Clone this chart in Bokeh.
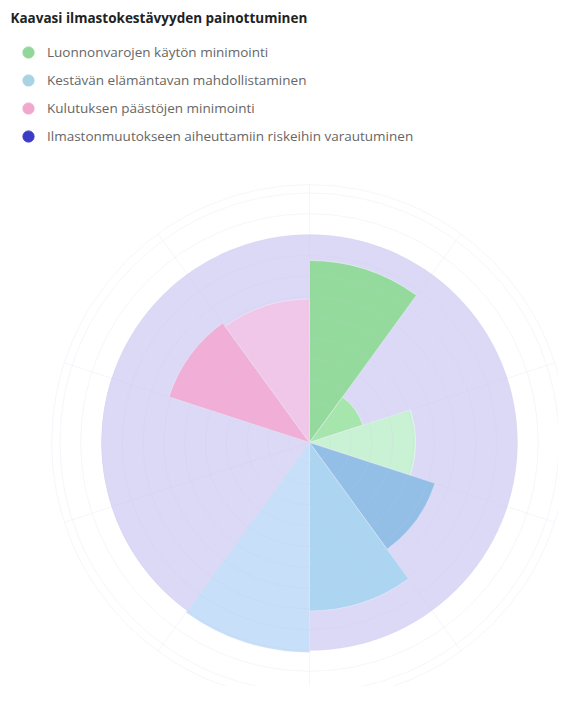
import numpy as np
from bokeh.plotting import figure
from bokeh.models import Label, Legend, LegendItem, ColumnDataSource
from bokeh.embed import file_html
from bokeh.resources import INLINE

# ---- data ----
title_text = "Kaavasi ilmastokestävyyden painottuminen"
series_names = [
    "Luonnonvarojen käytön minimointi",
    "Kestävän elämäntavan mahdollistaminen",
    "Kulutuksen päästöjen minimointi",
    "Ilmastonmuutokseen aiheuttamiin riskeihin varautuminen",
]
# sectors clockwise from 12 o'clock
sector_values = [8.75, 2.7, 5.1, 6.35, 8.1, 10.1, 10.0, 10.0, 7.1, 6.9]
sector_series = [0, 0, 0, 1, 1, 1, 3, 3, 2, 2]
background_value = 10.0
grid_values = [1, 2, 3, 4, 5, 6, 7, 8, 9, 10, 11, 12]
grid_outer = 12.4

# ---- styles ----
sector_colors = ["#94da9c", "#a6e6ac", "#c9f1d4", "#93bfe6", "#acd5f2", "#c7dff8",
                 "#dcd9f6", "#dcd9f6", "#f1aed7", "#f1c7e9"]
seam_alpha = [0.4, 0.4, 0.4, 0.3, 0.3, 0.3, 0.0, 0.0, 0.3, 0.3]
legend_colors = ["#92d79a", "#a9d3e3", "#f0a9cc", "#3b3bc6"]
disc_color = "#dcd9f6"

W, H = 558, 686
unit = 20.8          # px per value unit
cx, cy = 309, 442    # centre in figure px (from left, from top)

p = figure(width=W, height=H, output_backend="svg", toolbar_location=None,
           x_range=(-cx / unit, (W - cx) / unit),
           y_range=(-(H - cy) / unit, cy / unit),
           min_border=0, outline_line_color=None)
p.axis.visible = False
p.grid.visible = False
p.background_fill_color = "white"
p.border_fill_color = "white"

# legend proxies (no visible points)
items = []
for name, col in zip(series_names, legend_colors):
    r = p.scatter(x=[np.nan], y=[np.nan], marker="circle", size=11,
                  fill_color=col, line_color=col)
    items.append(LegendItem(label=name, renderers=[r]))

# background disc (fourth series, full circle)
p.circle(x=[0], y=[0], radius=[background_value], fill_color=disc_color,
         line_color=None)

n = len(sector_values)
step = 2 * np.pi / n
starts = [np.pi / 2 - step * (i + 1) for i in range(n)]
ends = [np.pi / 2 - step * i for i in range(n)]
src = ColumnDataSource(dict(x=[0] * n, y=[0] * n, r=sector_values,
                            s=starts, e=ends, c=sector_colors, la=seam_alpha))
p.wedge(x="x", y="y", radius="r", start_angle="s", end_angle="e",
        fill_color="c", line_color="white", line_alpha="la", line_width=1,
        source=src)

# grid rings and spokes
gcol = "#c9c6e6"
p.circle(x=[0] * len(grid_values), y=[0] * len(grid_values), radius=grid_values,
         fill_color=None, line_color=gcol, line_alpha=0.16, line_width=1)
p.circle(x=[0], y=[0], radius=[grid_outer], fill_color=None,
         line_color=gcol, line_alpha=0.16, line_width=1)
ang = [np.pi / 2 - step * i for i in range(n)]
p.segment(x0=[0] * n, y0=[0] * n,
          x1=[grid_outer * np.cos(a) for a in ang],
          y1=[grid_outer * np.sin(a) for a in ang],
          line_color=gcol, line_alpha=0.16, line_width=1)

# title
p.add_layout(Label(x=10, y=H - 17, x_units="screen", y_units="screen",
                   text=title_text, text_font="Open Sans", text_font_size="13.5px",
                   text_font_style="bold", text_color="#222222",
                   text_baseline="middle"))

legend = Legend(items=items, location=(14, 536), orientation="vertical",
                padding=0, margin=0, spacing=0, glyph_width=28, glyph_height=28,
                label_height=28, label_standoff=5,
                label_text_font="Open Sans", label_text_font_size="13.5px",
                label_text_color="#666666", border_line_color=None,
                background_fill_alpha=0)
p.add_layout(legend, "center")

open("out.html", "w").write(file_html(p, INLINE))
